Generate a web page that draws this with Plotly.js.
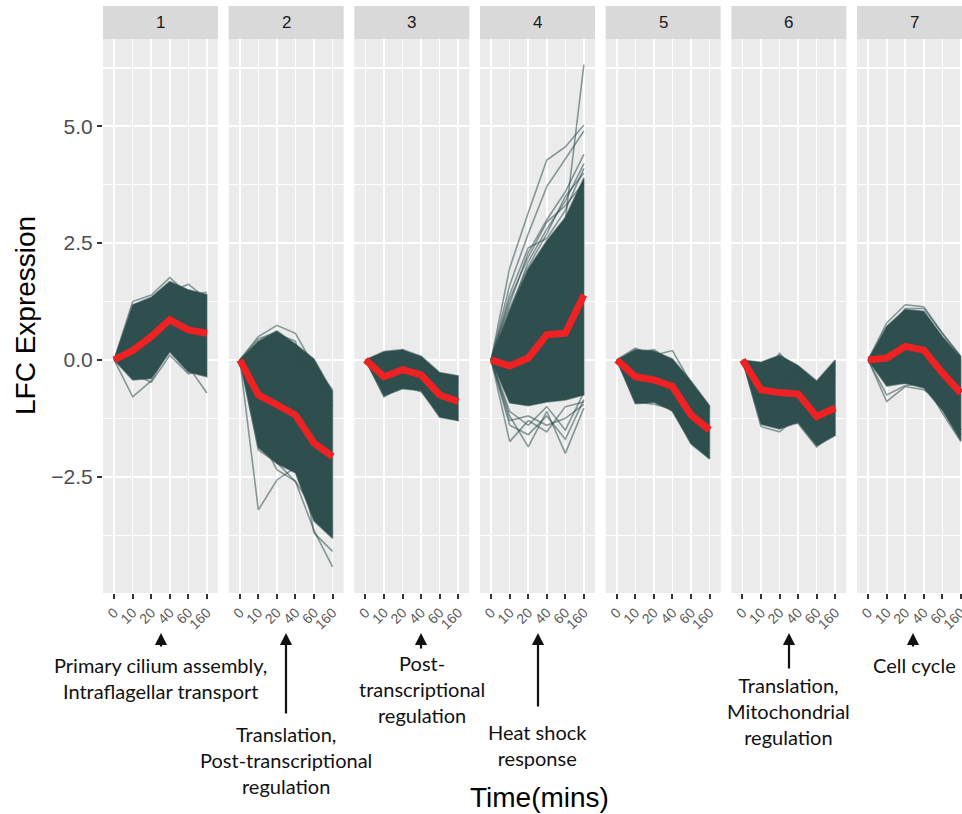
<!DOCTYPE html>
<html>
<head>
<meta charset="utf-8">
<script src="https://cdn.plot.ly/plotly-3.0.1.min.js"></script>
<style>
  html, body { margin: 0; padding: 0; background: #ffffff; }
  #chart { width: 962px; height: 814px; }
</style>
</head>
<body>
<div id="chart"></div>
<script>
// Sampling times (minutes) and cluster labels
const timePoints = ["0", "10", "20", "40", "60", "160"];
const clusterIds = ["1", "2", "3", "4", "5", "6", "7"];

// Mean log fold change per cluster
const meanLFC = [
  [0, 0.20, 0.50, 0.86, 0.64, 0.57],
  [0, -0.75, -0.96, -1.18, -1.78, -2.07],
  [0, -0.36, -0.21, -0.32, -0.75, -0.89],
  [0, -0.13, 0.04, 0.54, 0.57, 1.39],
  [0, -0.36, -0.43, -0.57, -1.18, -1.50],
  [0, -0.64, -0.70, -0.73, -1.21, -1.03],
  [0, 0.04, 0.29, 0.21, -0.28, -0.71]
];

// Upper and lower edge of the bulk of gene profiles in each cluster
const upperLFC = [
  [0, 1.18, 1.34, 1.68, 1.50, 1.40],
  [0, 0.40, 0.62, 0.34, 0.02, -0.68],
  [0, 0.18, 0.22, 0.08, -0.27, -0.34],
  [0, 1.05, 1.95, 2.55, 3.05, 3.90],
  [0, 0.22, 0.19, 0.02, -0.45, -0.98],
  [0, -0.05, 0.10, -0.12, -0.45, 0.00],
  [0, 0.72, 1.08, 1.04, 0.50, 0.05]
];
const lowerLFC = [
  [0, -0.43, -0.40, 0.17, -0.26, -0.36],
  [0, -1.88, -2.22, -2.42, -3.45, -3.82],
  [0, -0.77, -0.62, -0.66, -1.23, -1.30],
  [0, -0.92, -0.98, -0.90, -0.86, -0.75],
  [0, -0.94, -0.91, -1.09, -1.80, -2.12],
  [0, -1.38, -1.48, -1.34, -1.84, -1.62],
  [0, -0.56, -0.50, -0.60, -1.08, -1.73]
];

// Individual genes lying near or away from the bulk of each cluster
const outlierLFC = [
  [
    [0, -0.79, -0.45, 0.25, -0.20, -0.30],
    [0, 0.30, 0.20, 0.60, -0.14, -0.71],
    [0, 1.10, 1.30, 1.45, 1.62, 1.30],
    [0, 1.25, 1.39, 1.76, 1.40, 1.45],
    [0, -0.30, -0.48, 0.10, -0.30, -0.20],
    [0, 0.90, 1.20, 1.60, 1.30, 1.20]
  ],
  [
    [0, -3.21, -2.57, -2.30, -3.30, -3.60],
    [0, -1.93, -2.20, -2.60, -3.65, -4.43],
    [0, 0.50, 0.74, 0.57, -0.14, -0.64],
    [0, 0.30, 0.55, 0.40, -1.28, -0.64],
    [0, -0.50, -1.20, -1.50, -3.70, -4.10],
    [0, 0.20, 0.45, 0.10, -0.40, -1.00],
    [0, -1.60, -2.35, -2.60, -3.20, -3.70],
    [0, 0.45, 0.60, 0.20, -0.20, -0.90]
  ],
  [
    [0, -0.30, 0.22, -0.20, -0.60, -0.40],
    [0, -0.70, -0.40, -0.50, -1.10, -1.30],
    [0, 0.15, 0.10, 0.05, -0.35, -0.50],
    [0, -0.79, -0.55, -0.68, -1.15, -1.20]
  ],
  [
    [0, 0.90, 1.80, 2.40, 3.00, 6.32],
    [0, 1.97, 3.15, 4.28, 4.56, 5.03],
    [0, 1.60, 2.70, 3.71, 4.30, 4.90],
    [0, 1.20, 2.30, 3.00, 3.60, 4.40],
    [0, 1.00, 2.10, 2.80, 3.40, 4.20],
    [0, 1.30, 2.20, 2.95, 3.30, 3.80],
    [0, 1.10, 2.00, 2.70, 3.50, 4.00],
    [0, 1.40, 2.40, 2.60, 3.20, 4.10],
    [0, -1.75, -1.30, -1.54, -1.00, -0.90],
    [0, -1.20, -1.86, -1.10, -2.00, -1.03],
    [0, -1.40, -1.60, -1.20, -1.70, -0.85],
    [0, -1.10, -1.40, -1.00, -1.50, -0.70],
    [0, -1.30, -1.20, -1.40, -1.25, -0.95]
  ],
  [
    [0, 0.25, 0.10, 0.20, -0.50, -1.00],
    [0, -0.90, -0.95, -1.05, -1.70, -2.10],
    [0, 0.15, 0.22, -0.05, -0.55, -1.05],
    [0, -0.85, -0.80, -1.10, -1.75, -2.00]
  ],
  [
    [0, -1.43, -1.54, -1.20, -1.40, -1.50],
    [0, -0.40, 0.14, -0.30, -0.50, -0.10],
    [0, -0.80, -0.60, -0.20, -1.10, -0.30],
    [0, -1.30, -1.35, -1.36, -1.86, -1.55]
  ],
  [
    [0, 0.79, 1.18, 1.14, 0.57, 0.07],
    [0, -0.89, -0.57, -0.64, -0.90, -1.50],
    [0, -0.50, -0.50, -0.45, -1.14, -1.75],
    [0, 0.60, 1.10, 1.10, 0.57, 0.07],
    [0, -0.75, -0.55, -0.50, -1.00, -1.60]
  ]
];

// Gene-function notes written under the panels
const noteTexts = [
  "Primary cilium assembly,<br>Intraflagellar transport",
  "Translation,<br>Post-transcriptional<br>regulation",
  "Post-<br>transcriptional<br>regulation",
  "Heat shock<br>response",
  "Translation,<br>Mitochondrial<br>regulation",
  "Cell cycle"
];

const W = 962, H = 814;
const panelLeft0 = 103, panelStep = 125.67, panelWidth = 115;
const plotTop = 39, plotBottom = 593, stripTop = 6;
const slate = "#2F4F4F";
const slateLine = "rgba(47,79,79,0.55)";

const px = v => v / W;
const py = v => 1 - v / H;

const traces = [];
const layout = {
  width: W, height: H,
  margin: { l: 0, r: 0, t: 0, b: 0 },
  paper_bgcolor: "#ffffff",
  plot_bgcolor: "#EBEBEB",
  showlegend: false,
  font: { family: "Liberation Sans, Arial, sans-serif" },
  shapes: [],
  annotations: []
};

layout.yaxis = {
  domain: [py(plotBottom), py(plotTop)],
  range: [-4.99, 6.87],
  anchor: "x",
  tickmode: "array",
  tickvals: [-2.5, 0, 2.5, 5],
  ticktext: ["\u22122.5", "0.0", "2.5", "5.0"],
  ticks: "outside", ticklen: 5, tickwidth: 2, tickcolor: "#333333",
  tickfont: { size: 21, color: "#4D4D4D" },
  showgrid: true, gridcolor: "#ffffff", gridwidth: 2,
  minor: { tickvals: [-3.75, -1.25, 1.25, 3.75, 6.25], showgrid: true, gridcolor: "#ffffff", gridwidth: 1.1, ticks: "" },
  zeroline: false, showline: false, fixedrange: true
};

clusterIds.forEach((cid, k) => {
  const axId = k === 0 ? "x" : "x" + (k + 1);
  const axKey = k === 0 ? "xaxis" : "xaxis" + (k + 1);
  const left = panelLeft0 + panelStep * k;
  const right = Math.min(left + panelWidth, W);
  const shownUnits = 6.2 * (right - left) / panelWidth;

  layout[axKey] = {
    domain: [px(left), px(right)],
    type: "category",
    categoryorder: "array",
    categoryarray: timePoints,
    range: [-0.6, -0.6 + shownUnits],
    anchor: "y",
    ticks: "outside", ticklen: 5, tickwidth: 2, tickcolor: "#333333",
    tickangle: -45,
    tickfont: { size: 14, color: "#595959" },
    showgrid: true, gridcolor: "#ffffff", gridwidth: 1.6,
    zeroline: false, showline: false, fixedrange: true
  };

  // facet strip
  layout.shapes.push({
    type: "rect", xref: "paper", yref: "paper",
    x0: px(left), x1: px(right), y0: py(plotTop), y1: py(stripTop),
    fillcolor: "#D9D9D9", line: { width: 0 }, layer: "below"
  });
  layout.annotations.push({
    xref: "paper", yref: "paper",
    x: px(left + panelWidth / 2), y: py((plotTop + stripTop) / 2),
    text: cid, showarrow: false, xanchor: "center", yanchor: "middle",
    font: { size: 17, color: "#1A1A1A" }
  });

  // bulk band of profiles
  traces.push({
    type: "scatter", mode: "lines", xaxis: axId, yaxis: "y",
    x: timePoints.concat(timePoints.slice().reverse()),
    y: upperLFC[k].concat(lowerLFC[k].slice().reverse()),
    fill: "toself", fillcolor: slate,
    line: { color: slateLine, width: 1.5 },
    hoverinfo: "skip"
  });

  // individual genes
  outlierLFC[k].forEach(prof => {
    traces.push({
      type: "scatter", mode: "lines", xaxis: axId, yaxis: "y",
      x: timePoints, y: prof,
      line: { color: slateLine, width: 1.6 },
      hoverinfo: "skip"
    });
  });

  // cluster mean
  traces.push({
    type: "scatter", mode: "lines", xaxis: axId, yaxis: "y",
    x: timePoints, y: meanLFC[k],
    line: { color: "#EE2222", width: 7 },
    hoverinfo: "skip"
  });
});

// axis titles
layout.annotations.push({
  xref: "paper", yref: "paper", x: px(25), y: py(316),
  text: "LFC Expression", textangle: -90, showarrow: false,
  xanchor: "center", yanchor: "middle",
  font: { size: 28, color: "#000000" }
});
layout.annotations.push({
  xref: "paper", yref: "paper", x: px(539), y: py(797),
  text: "Time(mins)", showarrow: false,
  xanchor: "center", yanchor: "middle",
  font: { size: 28, color: "#000000" }
});

// function notes with arrows pointing up at the panels
const noteX = [160, 286, 422, 537, 788, 914];
const noteY = [678, 760, 689, 745, 711, 665];
const arrowX = [161, 286, 421, 538, 789, 913];
const arrowEnd = [648, 715, 650, 708, 670, 648];
const noteFont = { family: "Lato, Noto Sans, sans-serif", size: 20, color: "#111111" };
noteTexts.forEach((t, i) => {
  layout.annotations.push({
    xref: "paper", yref: "paper", x: px(noteX[i]), y: py(noteY[i]),
    text: t, showarrow: false, xanchor: "center", yanchor: "middle",
    align: "center", font: noteFont
  });
  layout.annotations.push({
    xref: "paper", yref: "paper", x: px(arrowX[i]), y: py(633),
    text: "", showarrow: true, ax: 0, ay: arrowEnd[i] - 633,
    arrowhead: 2, arrowsize: 1.1, arrowwidth: 2.2, arrowcolor: "#111111",
    standoff: 0, startstandoff: 0
  });
});

Plotly.newPlot("chart", traces, layout, { staticPlot: true, displayModeBar: false });
</script>
</body>
</html>
